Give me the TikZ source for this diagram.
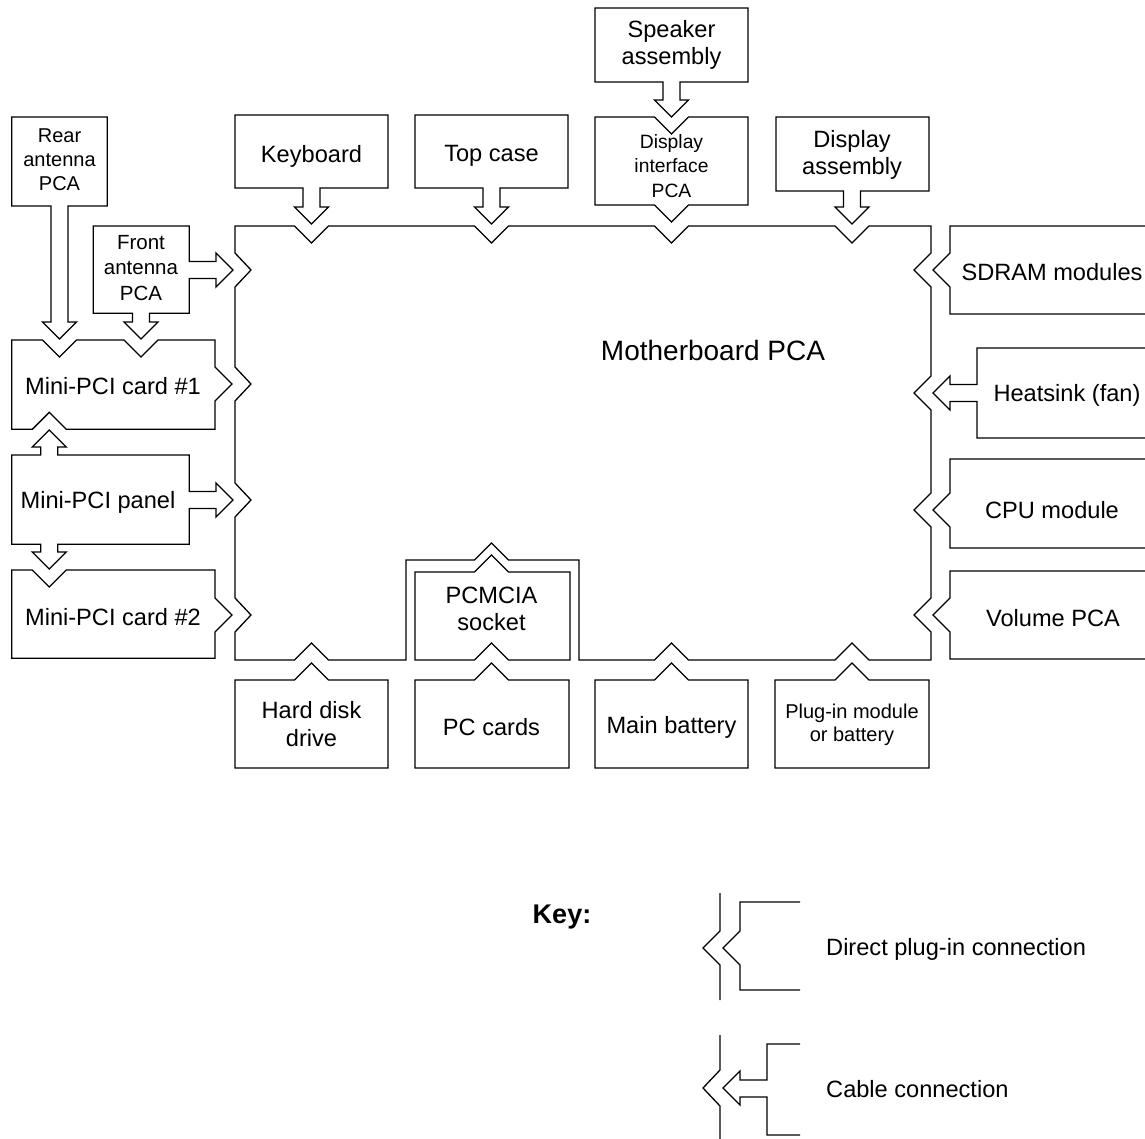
\documentclass[tikz,border=0pt]{standalone}
\usepackage{fontspec}
\setmainfont{Liberation Sans}
\begin{document}
\begin{tikzpicture}[x=1pt,y=-1pt,line join=miter,
  outline/.style={draw=black,line width=1.3pt},
  lbl/.style={inner sep=0pt,align=center,font=\fontsize{23.6}{27.5}\selectfont},
  sm/.style={inner sep=0pt,align=center,font=\fontsize{20}{24}\selectfont},
  big/.style={inner sep=0pt,align=center,font=\fontsize{28}{32}\selectfont},
  keyt/.style={inner sep=0pt,font=\bfseries\fontsize{27}{31}\selectfont}]
\useasboundingbox[fill=white] (0,0) rectangle (1145,1139);

% Motherboard outline
\draw[outline] (235,226) -- (294.5,226) -- (311.5,243) -- (328.5,226)
  -- (474.5,226) -- (491.5,243) -- (508.5,226)
  -- (654.5,226) -- (671.5,243) -- (688.5,226)
  -- (835,226) -- (852,243) -- (869,226)
  -- (931,226)
  -- (931,253) -- (914,270) -- (931,287)
  -- (931,376) -- (914,393) -- (931,410)
  -- (931,493) -- (914,510) -- (931,527)
  -- (931,598) -- (914,615) -- (931,632)
  -- (931,660)
  -- (869,660) -- (852,643) -- (835,660)
  -- (688.5,660) -- (671.5,643) -- (654.5,660)
  -- (579,660) -- (579,560) -- (508.5,560) -- (491.5,543) -- (474.5,560) -- (406,560) -- (406,660)
  -- (328.5,660) -- (311.5,643) -- (294.5,660)
  -- (235,660)
  -- (235,632) -- (251,615) -- (235,598)
  -- (235,517) -- (251,500) -- (235,483)
  -- (235,401) -- (251,384) -- (235,367)
  -- (235,287) -- (251,270) -- (235,253) -- cycle;
\node[big] (mb) at (713,350) {Motherboard PCA};

% Top row
\draw[outline] (595,8) -- (748,8) -- (748,82) -- (680,82) -- (680,100) -- (688.5,100) -- (671.5,117) -- (654.5,100) -- (663,100) -- (663,82) -- (595,82) -- cycle;
\node[lbl] (spk) at (671.5,45) {Speaker\\assembly};

\draw[outline] (235,115) -- (388,115) -- (388,188) -- (320,188) -- (320,207) -- (328.5,207) -- (311.5,224) -- (294.5,207) -- (303,207) -- (303,188) -- (235,188) -- cycle;
\node[lbl] (kb) at (311.5,156) {Keyboard};

\draw[outline] (415,115) -- (568,115) -- (568,188) -- (500,188) -- (500,207) -- (508.5,207) -- (491.5,224) -- (474.5,207) -- (483,207) -- (483,188) -- (415,188) -- cycle;
\node[lbl] (tc) at (491.5,156) {Top case};

\draw[outline] (595,117) -- (654.5,117) -- (671.5,134) -- (688.5,117) -- (748,117) -- (748,205) -- (688.5,205) -- (671.5,222) -- (654.5,205) -- (595,205) -- cycle;
\node[sm,font=\fontsize{19.3}{24.5}\selectfont] (dip) at (671.5,166) {Display\\interface\\PCA};

\draw[outline] (776,117) -- (929,117) -- (929,191) -- (860.5,191) -- (860.5,207) -- (869,207) -- (852,224) -- (835,207) -- (843.5,207) -- (843.5,191) -- (776,191) -- cycle;
\node[lbl] (da) at (852,155) {Display\\assembly};

% Bottom row
\draw[outline] (415,572) -- (474.5,572) -- (491.5,555) -- (508.5,572) -- (570,572) -- (570,660) -- (508.5,660) -- (491.5,643) -- (474.5,660) -- (415,660) -- cycle;
\node[lbl] (pcm) at (491.5,609) {PCMCIA\\socket};

\draw[outline] (235,680) -- (294.5,680) -- (311.5,663) -- (328.5,680) -- (388,680) -- (388,768) -- (235,768) -- cycle;
\node[lbl] (hdd) at (311.5,724) {Hard disk\\drive};

\draw[outline] (415,680) -- (474.5,680) -- (491.5,663) -- (508.5,680) -- (569,680) -- (569,768) -- (415,768) -- cycle;
\node[lbl] (pcc) at (491.5,727) {PC cards};

\draw[outline] (595,680) -- (654.5,680) -- (671.5,663) -- (688.5,680) -- (748,680) -- (748,768) -- (595,768) -- cycle;
\node[lbl] (mbat) at (671.5,727) {Main battery};

\draw[outline] (775,680) -- (835,680) -- (852,663) -- (869,680) -- (929,680) -- (929,768) -- (775,768) -- cycle;
\node[sm,font=\fontsize{20}{23.5}\selectfont] (plug) at (852,725) {Plug-in module\\or battery};

% Left column
\draw[outline] (11.7,117) -- (107.3,117) -- (107.3,206) -- (68,206) -- (68,322) -- (76.5,322) -- (59.5,339) -- (42.5,322) -- (51,322) -- (51,206) -- (11.7,206) -- cycle;
\node[sm] (rear) at (59.5,160) {Rear\\antenna\\PCA};

\draw[outline] (93.3,226) -- (189.3,226) -- (189.3,261.5) -- (216,261.5) -- (216,253) -- (233,270) -- (216,287) -- (216,278.5) -- (189.3,278.5) -- (189.3,313.3) -- (149.5,313.3) -- (149.5,322) -- (158,322) -- (141,339) -- (124,322) -- (132.5,322) -- (132.5,313.3) -- (93.3,313.3) -- cycle;
\node[sm,font=\fontsize{20.5}{25.5}\selectfont] (front) at (141,268) {Front\\antenna\\PCA};

\draw[outline] (11.7,340) -- (42.5,340) -- (59.5,357) -- (76.5,340) -- (124,340) -- (141,357) -- (158,340) -- (215,340) -- (215,367) -- (232,384) -- (215,401) -- (215,429.3) -- (66.3,429.3) -- (49.3,412.3) -- (32.3,429.3) -- (11.7,429.3) -- cycle;
\node[lbl] (mc1) at (113,386) {Mini-PCI card \#1};

\draw[outline] (11.7,455) -- (40.8,455) -- (40.8,447) -- (32.3,447) -- (49.3,430) -- (66.3,447) -- (57.8,447) -- (57.8,455) -- (189.3,455) -- (189.3,491.5) -- (216,491.5) -- (216,483) -- (233,500) -- (216,517) -- (216,508.5) -- (189.3,508.5) -- (189.3,544.3) -- (57.8,544.3) -- (57.8,552) -- (66.3,552) -- (49.3,569) -- (32.3,552) -- (40.8,552) -- (40.8,544.3) -- (11.7,544.3) -- cycle;
\node[lbl] (mpp) at (98,502) {Mini-PCI panel};

\draw[outline] (11.7,570) -- (32.3,570) -- (49.3,587) -- (66.3,570) -- (215,570) -- (215,598) -- (232,615) -- (215,632) -- (215,658.3) -- (11.7,658.3) -- cycle;
\node[lbl] (mc2) at (113,617) {Mini-PCI card \#2};

% Right column
\draw[outline] (1145,226) -- (950,226) -- (950,253) -- (933,270) -- (950,287) -- (950,314) -- (1145,314);
\node[lbl] (sdram) at (1052,272) {SDRAM modules};

\draw[outline] (1145,348) -- (977,348) -- (977,384.5) -- (950,384.5) -- (950,376) -- (933,393) -- (950,410) -- (950,401.5) -- (977,401.5) -- (977,438) -- (1145,438);
\node[lbl] (heat) at (1067,395) {Heatsink (fan)};

\draw[outline] (1145,459) -- (950,459) -- (950,493) -- (933,510) -- (950,527) -- (950,548) -- (1145,548);
\node[lbl] (cpu) at (1052,510) {CPU module};

\draw[outline] (1145,571) -- (950,571) -- (950,598) -- (933,615) -- (950,632) -- (950,659) -- (1145,659);
\node[lbl] (vol) at (1053,618) {Volume PCA};

% Key
\node[keyt] (key) at (562,917) {Key:};
\draw[outline] (720,893) -- (720,931) -- (703,948) -- (720,965) -- (720,1000);
\draw[outline] (800,902) -- (740,902) -- (740,931) -- (723,948) -- (740,965) -- (740,990) -- (800,990);
\node[lbl,anchor=west] (kdir) at (826,949) {Direct plug-in connection};

\draw[outline] (720,1035) -- (720,1070) -- (703,1088) -- (720,1106) -- (720,1139);
\draw[outline] (800,1044) -- (767,1044) -- (767,1080) -- (740,1080) -- (740,1071) -- (723,1088) -- (740,1105) -- (740,1097) -- (767,1097) -- (767,1135) -- (800,1135);
\node[lbl,anchor=west] (kcab) at (826,1089) {Cable connection};
\end{tikzpicture}
\end{document}
